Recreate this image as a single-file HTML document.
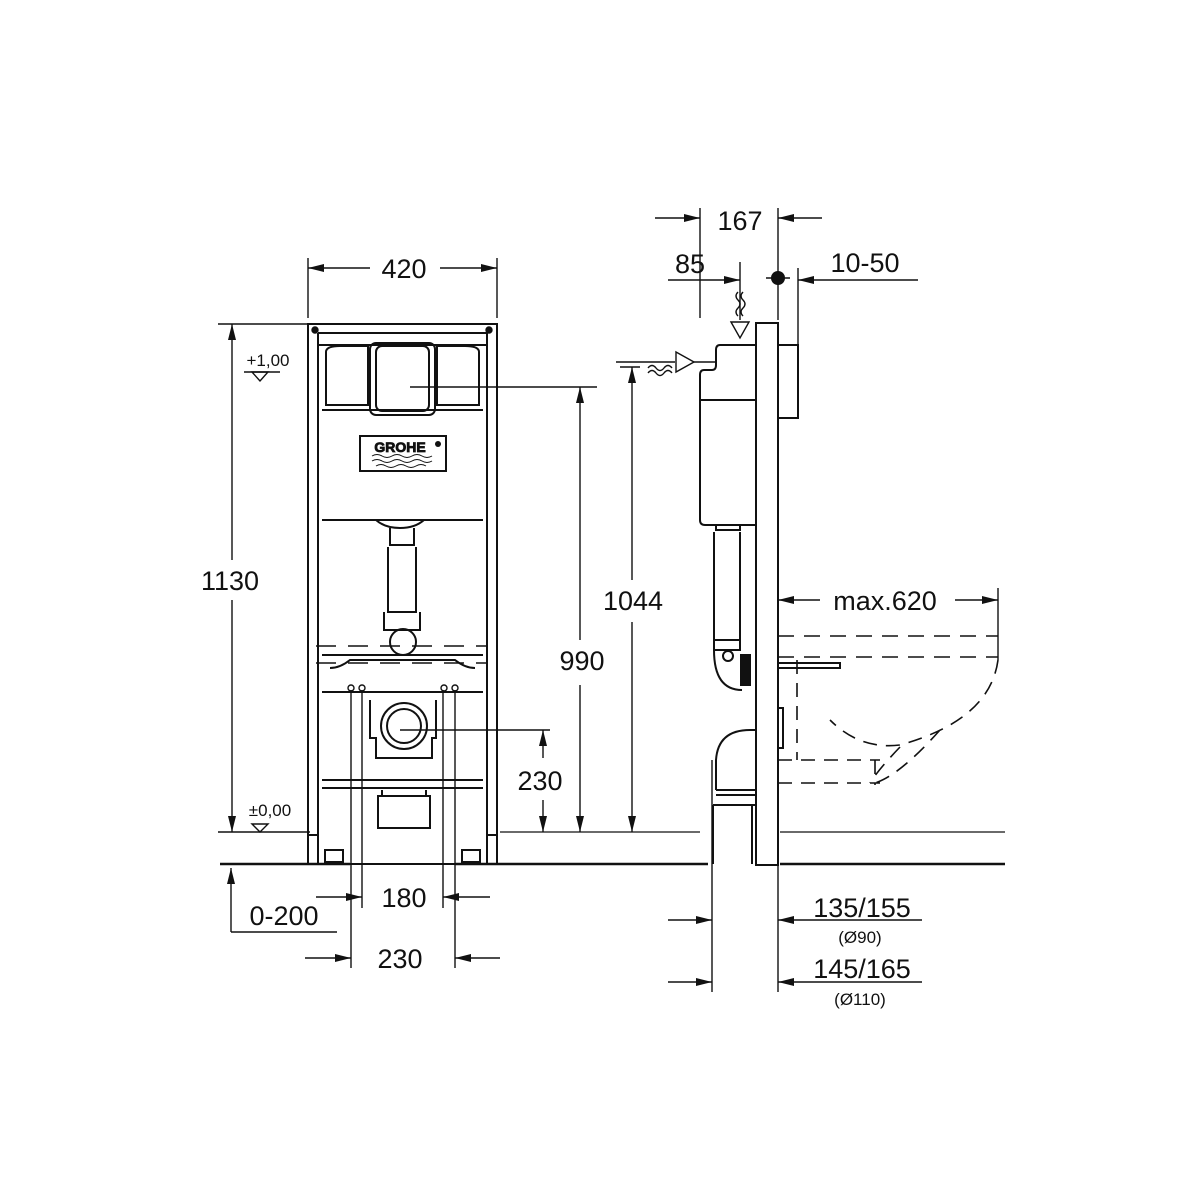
<!DOCTYPE html>
<html><head><style>body{margin:0;background:#fff}svg{display:block}text{font-family:"Liberation Sans",sans-serif;fill:#111}</style></head><body>
<svg width="1200" height="1200" viewBox="0 0 1200 1200" xmlns="http://www.w3.org/2000/svg">
<defs>
<marker id="a" viewBox="0 0 16 8" refX="16" refY="4" markerWidth="16" markerHeight="8" orient="auto" markerUnits="userSpaceOnUse"><path d="M0,0L16,4L0,8z" fill="#111"/></marker>
</defs>
<g stroke="#111" fill="none" stroke-width="1.4">
<path d="M220 864H350M455 864H708M780 864H1005" stroke-width="2.5"/>
<path d="M500 832H700M780 832H1005" stroke-width="1.3"/>
<g stroke-width="2">
<rect x="308" y="324" width="189" height="540"/>
<path d="M318 333V864M487 333V864M318 333H487"/>
<path d="M308 835H318M487 835H497"/>
<path d="M318 345H487M322 410H483"/>
<path d="M326 352Q326 346 340 346H368V405H326ZM479 352Q479 346 465 346H437V405H479Z"/>
<rect x="370" y="343" width="65" height="72" rx="6"/>
<rect x="376" y="346" width="53" height="65" rx="6"/>
<rect x="360" y="436" width="86" height="35"/>
<path d="M322 520H483M376 520Q385 528 400 528Q415 528 424 520"/>
<path d="M390 528V545H414V528M388 547V612H416V547M384 612V630H420V612"/>
<circle cx="403" cy="642" r="13"/>
<path d="M322 655H483M322 692H483M322 780H483M322 788H483"/>
<path d="M330 668Q340 668 350 660H455Q465 668 475 668"/>
<path d="M370 700V738H376V758H432V738H436V700"/>
<circle cx="404" cy="726" r="23"/><circle cx="404" cy="726" r="17"/>
<rect x="378" y="796" width="52" height="32"/>
<path d="M382 790V796M426 790V796"/>
<rect x="325" y="850" width="18" height="12"/><rect x="462" y="850" width="18" height="12"/>
</g>
<path d="M372 456q5-3 10 0t10 0t10 0t10 0t10 0t10 0M372 461q5-3 10 0t10 0t10 0t10 0t10 0t10 0M376 466q5-3 10 0t10 0t10 0t10 0t10 0" stroke-width="1"/>
<circle cx="315" cy="330" r="3" fill="#111"/><circle cx="489" cy="330" r="3" fill="#111"/>
<circle cx="351" cy="688" r="3"/><circle cx="362" cy="688" r="3"/><circle cx="444" cy="688" r="3"/><circle cx="455" cy="688" r="3"/>
<path d="M316 646H488M316 663H488" stroke-dasharray="20 12" stroke-width="1.6"/>
<path d="M308 258V318M497 258V318"/>
<path d="M370 268H308" marker-end="url(#a)"/><path d="M440 268H497" marker-end="url(#a)"/>
<path d="M218 324H312M218 832H310M244 372H280M244 832H280"/>
<path d="M232 560V324" marker-end="url(#a)"/><path d="M232 600V832" marker-end="url(#a)"/>
<path d="M252 372L260 381L268 372Z"/><path d="M252 824L260 832L268 824Z"/>
<path d="M410 387H597M400 730H550M620 367H640"/>
<path d="M580 640V387" marker-end="url(#a)"/><path d="M580 685V832" marker-end="url(#a)"/>
<path d="M543 758V730" marker-end="url(#a)"/><path d="M543 800V832" marker-end="url(#a)"/>
<path d="M632 580V367" marker-end="url(#a)"/><path d="M632 622V832" marker-end="url(#a)"/>
<path d="M231 932V868" marker-end="url(#a)"/><path d="M231 932H337"/>
<path d="M351 690V968M362 690V908M443 690V908M455 690V968"/>
<path d="M316 897H362" marker-end="url(#a)"/><path d="M490 897H443" marker-end="url(#a)"/>
<path d="M305 958H351" marker-end="url(#a)"/><path d="M500 958H455" marker-end="url(#a)"/>
<g stroke-width="2">
<rect x="756" y="323" width="22" height="542"/>
<rect x="778" y="345" width="20" height="73"/>
<path d="M756 345H720Q716 345 716 350V365Q716 370 712 370H704Q700 370 700 375V400H756"/>
<path d="M700 400V520Q700 525 705 525H756"/>
<path d="M716 525V530H740V525M714 532V640H740V532M714 640V650H740V640"/>
<circle cx="728" cy="656" r="5"/>
<path d="M714 650Q714 690 742 690" /><rect x="741" y="655" width="9" height="30" fill="#111"/>
<path d="M756 730H750Q718 730 716 760V790M716 790H756M716 795H756M713 805H756M713 805V864M752 805V864"/>
<rect x="778" y="708" width="5" height="40"/>
<path d="M778 663H840V668H778"/>
</g>
<path d="M778 636H998M778 657H998" stroke-dasharray="16 10" stroke-width="1.6"/>
<path d="M797 660V760M875 760V785M778 760H880M778 783H880M998 660Q990 720 900 745Q860 750 830 720M900 747Q878 770 870 783M940 730Q900 775 875 783" stroke-dasharray="14 9" stroke-width="1.6"/>
<path d="M700 208V318M778 208V320M740 262V320M798 268V345M712 760V910M712 910V992M778 864V992"/>
<path d="M655 218H700" marker-end="url(#a)"/><path d="M822 218H778" marker-end="url(#a)"/>
<path d="M668 280H740" marker-end="url(#a)"/><path d="M918 280H798" marker-end="url(#a)"/>
<path d="M766 278H790"/>
<path d="M616 362H675" /><path d="M676 352L694 362L676 372Z"/><path d="M694 362H716"/>
<path d="M731 322L740 338L749 322Z"/>
<path d="M738 292q-4 4 0 8q4 4 0 8q-4 4 0 8M743 292q-4 4 0 8q4 4 0 8q-4 4 0 8"/>
<path d="M648 368q4-5 8 0q4 5 8 0q4-5 8 0M648 373q4-5 8 0q4 5 8 0q4-5 8 0"/>
<path d="M998 588V660"/>
<path d="M820 600H778" marker-end="url(#a)"/><path d="M955 600H998" marker-end="url(#a)"/>
<path d="M668 920H712" marker-end="url(#a)"/><path d="M922 920H778" marker-end="url(#a)"/>
<path d="M668 982H712" marker-end="url(#a)"/><path d="M922 982H778" marker-end="url(#a)"/>
</g>
<circle cx="778" cy="278" r="7" fill="#111"/>
<g font-size="27">
<text x="404" y="278" text-anchor="middle">420</text>
<text x="230" y="590" text-anchor="middle">1130</text>
<text x="582" y="670" text-anchor="middle">990</text>
<text x="540" y="790" text-anchor="middle">230</text>
<text x="633" y="610" text-anchor="middle">1044</text>
<text x="284" y="925" text-anchor="middle">0-200</text>
<text x="404" y="907" text-anchor="middle">180</text>
<text x="400" y="968" text-anchor="middle">230</text>
<text x="740" y="230" text-anchor="middle">167</text>
<text x="690" y="273" text-anchor="middle">85</text>
<text x="865" y="272" text-anchor="middle">10-50</text>
<text x="885" y="610" text-anchor="middle">max.620</text>
<text x="862" y="917" text-anchor="middle">135/155</text>
<text x="862" y="978" text-anchor="middle">145/165</text>
</g>
<g font-size="17">
<text x="860" y="943" text-anchor="middle">(Ø90)</text>
<text x="860" y="1005" text-anchor="middle">(Ø110)</text>
<text x="268" y="366" text-anchor="middle">+1,00</text>
<text x="270" y="816" text-anchor="middle">±0,00</text>
</g>
<text x="400" y="452" font-size="14" font-weight="bold" text-anchor="middle" fill="none" stroke="#111" stroke-width="0.8">GROHE</text>
<circle cx="438" cy="444" r="3" fill="#111"/>
</svg>
</body></html>
